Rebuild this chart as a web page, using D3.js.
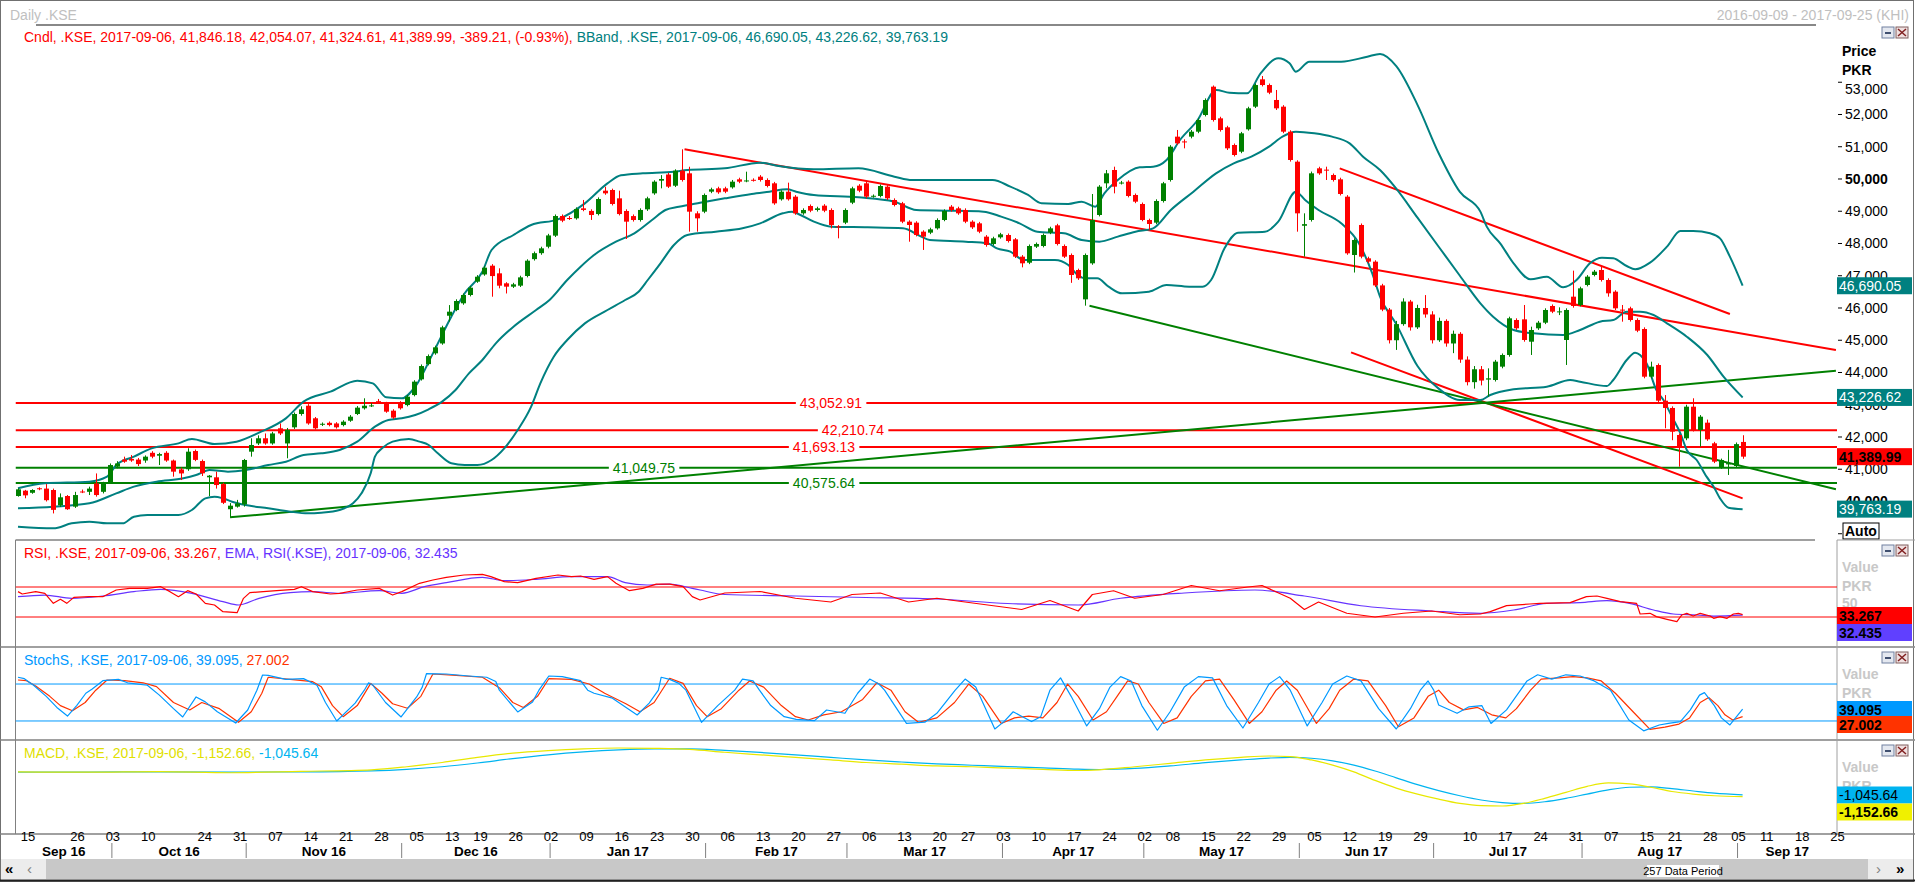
<!DOCTYPE html>
<html>
<head>
<meta charset="utf-8">
<script src="https://cdn.jsdelivr.net/npm/d3@7"></script>
<style>
  body { margin: 0; background: #fff; overflow: hidden; }
  svg { display: block; }
  text { font-family: "Liberation Sans", Arial, sans-serif; }
</style>
</head>
<body>
<svg id="chart" width="1915" height="883"></svg>
<script>
// ---- calendar ----
var firstDay = "2016-09-09", lastDay = "2017-09-25";
var holidays = ["2016-09-12","2016-09-13","2016-09-14","2016-10-11","2016-10-12","2016-12-12",
  "2017-03-23","2017-05-01","2017-06-26","2017-06-27","2017-06-28","2017-08-14","2017-09-01","2017-09-04"];
var dayTicks = ["2016-09-15","2016-09-26","2016-10-03","2016-10-10","2016-10-24","2016-10-31","2016-11-07",
  "2016-11-14","2016-11-21","2016-11-28","2016-12-05","2016-12-13","2016-12-19","2016-12-26","2017-01-02",
  "2017-01-09","2017-01-16","2017-01-23","2017-01-30","2017-02-06","2017-02-13","2017-02-20","2017-02-27",
  "2017-03-06","2017-03-13","2017-03-20","2017-03-27","2017-04-03","2017-04-10","2017-04-17","2017-04-24",
  "2017-05-02","2017-05-08","2017-05-15","2017-05-22","2017-05-29","2017-06-05","2017-06-12","2017-06-19",
  "2017-06-29","2017-07-10","2017-07-17","2017-07-24","2017-07-31","2017-08-07","2017-08-15","2017-08-21",
  "2017-08-28","2017-09-05","2017-09-11","2017-09-18","2017-09-25"];
var monthNames = ["Sep 16","Oct 16","Nov 16","Dec 16","Jan 17","Feb 17","Mar 17","Apr 17","May 17","Jun 17","Jul 17","Aug 17","Sep 17"];

// ---- daily candles [open, high, low, close], one row per trading day ----
var candleRows = [
[40170,40410,40150,40377],[40336,40360,40100,40190],[40270,40380,40240,40356],[40410,40440,40350,40395],
[40400,40540,40000,40040],[40356,40400,39630,39740],[39880,40250,39830,40130],[40170,40200,39740,39760],
[39840,40300,39800,40200],[40310,40370,40260,40290],[40300,40460,40200,40400],[40560,40870,40150,40200],
[40300,40610,40250,40560],[40585,41180,40550,41130],[41080,41250,41030,41180],[41300,41390,41200,41235],
[41320,41440,41230,41270],[41300,41350,41100,41160],[41270,41430,41200,41390],[41510,41560,41340,41390],
[41420,41510,41130,41470],[41510,41560,41230,41270],[41270,41300,40770,40925],[40995,41050,40665,40870],
[41000,41650,40950,41545],[41565,41610,41250,41290],[41255,41300,40790,40873],[40750,40820,40170,40800],
[40750,40925,40400,40510],[40540,40580,39920,39960],[39760,39950,39509,39870],[39840,40050,39810,39940],
[39910,41320,39840,41287],[41545,41960,41390,41752],[41800,42050,41750,41960],[41960,42110,41760,41800],
[41800,42160,41760,42110],[42270,42420,42060,42110],[41800,42280,41340,42220],[42300,42760,42250,42713],
[42713,42950,42660,42858],[42970,43020,42380,42420],[42580,42620,42230,42270],[42380,42450,42340,42410],
[42440,42480,42330,42370],[42420,42460,42260,42300],[42370,42520,42330,42475],[42505,42680,42470,42630],
[42713,42960,42680,42910],[42890,43200,42850,42970],[42960,43050,42930,42980],[43110,43180,43060,43090],
[43050,43090,42750,42785],[42816,42860,42560,42600],[43060,43110,42850,42890],[42990,43300,42950,43250],
[43300,43760,43260,43716],[43788,44250,43750,44200],[44260,44560,44220,44510],[44594,44830,44550,44780],
[44900,45450,44860,45400],[45760,46090,45580,45886],[45936,46270,45900,46217],[46145,46450,46100,46403],
[46403,46680,46360,46630],[46816,47020,46780,46970],[47040,47300,47000,47250],[47312,47360,46350,46990],
[47075,47230,46610,46692],[46765,46800,46450,46661],[46661,46780,46620,46733],[46692,47000,46650,46950],
[46992,47510,46950,47467],[47515,47750,47470,47700],[47700,47900,47650,47850],[47900,48300,47850,48250],
[48243,48900,48200,48852],[48852,48900,48660,48708],[48790,48850,48730,48770],[48780,49120,48740,49070],
[49090,49350,49000,49040],[49010,49060,48730,48883],[48913,49430,48870,49380],[49638,49760,49510,49555],
[49659,49700,49180,49225],[49400,49638,48870,48913],[49008,49060,48140,48677],[48850,48900,48680,48728],
[48728,49090,48680,49040],[49059,49450,49010,49400],[49555,49960,49510,49917],[49948,50120,49710,50000],
[50140,50190,49720,49762],[49792,50300,49750,50258],[50258,50921,49920,49969],[50176,50380,48367,48987],
[48935,49000,48367,48780],[48987,49550,48940,49504],[49607,49730,49560,49680],[49710,49760,49540,49587],
[49710,49760,49560,49607],[49741,49970,49700,49917],[49990,50040,49870,49917],[49940,50227,49900,49955],
[49975,50020,49920,49965],[50072,50120,49920,49969],[49969,50020,49740,49783],[49866,49910,49200,49245],
[49370,49650,49330,49607],[49607,49886,49330,49370],[49452,49500,48890,48935],[48935,49090,48890,49039],
[49163,49210,48970,49018],[49039,49140,48990,49090],[49173,49220,48970,49018],[49039,49090,48470,48574],
[48530,48570,48160,48515],[48646,49090,48600,49039],[49266,49760,49220,49710],[49793,49840,49590,49638],
[49866,49910,49400,49452],[49465,49520,49420,49480],[49473,49830,49430,49783],[49762,49810,49350,49400],
[49349,49400,49150,49194],[49245,49290,48630,48677],[48677,48720,48056,48574],[48646,48690,48220,48263],
[48367,48410,47800,48212],[48336,48490,48290,48439],[48470,48780,48430,48729],[48729,49060,48690,49008],
[49142,49190,48990,49039],[49090,49140,48890,48935],[49039,49090,48630,48677],[48677,48720,48450,48501],
[48625,48670,48320,48367],[48212,48260,47900,47954],[47985,48210,47940,48160],[48191,48330,48150,48284],
[48263,48310,48030,48077],[48129,48170,47550,47592],[47592,47640,47260,47385],[47405,47970,47360,47922],
[47902,48030,47860,47985],[47922,48310,47880,48263],[48336,48520,48290,48470],[48563,48610,47940,47985],
[47922,47970,47550,47592],[47643,47690,46780,47023],[47178,47220,46870,46920],[46268,47690,46072,47643],
[47385,49535,47340,48729],[48884,49810,48840,49762],[49866,50279,49710,50176],[50279,50382,49555,49762],
[49880,49940,49830,49890],[49917,49960,49430,49473],[49504,49550,49250,49297],[49225,49270,48690,48729],
[48729,48770,48420,48605],[48646,49370,48600,49318],[49317,49910,49270,49866],[49969,51050,49920,51002],
[51313,51520,51060,51106],[51165,51230,50950,51150],[51313,51520,51260,51467],[51467,51880,51420,51829],
[51984,52500,51940,52449],[52863,52900,51780,51829],[51881,51930,51470,51519],[51602,51650,50900,50951],
[51054,51100,50700,50744],[50847,51460,50800,51416],[51540,52240,51500,52191],[52243,52960,52200,52914],
[53090,53194,52870,52914],[52914,52960,52630,52677],[52450,52760,52140,52191],[52243,52290,51420,51467],
[51467,51510,50540,50589],[50537,50580,48367,48935],[48550,48935,47592,48600],[48729,50230,48680,50176],
[50331,50380,50130,50176],[50290,50382,49969,50270],[50124,50170,49920,49969],[49990,50040,49490,49535],
[49452,49500,47650,47695],[47643,48160,47100,48108],[48574,48620,47540,47592],[47540,47590,47390,47437],
[47437,47480,46650,46700],[46700,46750,45900,45950],[45950,46000,44900,45000],[45000,45600,44700,45500],
[45500,46300,45450,46200],[46200,46250,45300,45400],[45400,46100,45350,46000],[46000,46400,45700,45800],
[45800,45900,44900,45000],[45000,45700,44950,45600],[45600,45650,44800,44900],[44900,45300,44600,45200],
[45200,45250,44300,44400],[44400,44500,43600,43700],[43700,44200,43500,44100],[44100,44200,43600,43750],
[43780,44129,43250,43819],[43767,44390,43720,44336],[44181,44590,44130,44543],[44543,45730,44490,45680],
[45627,45680,45320,45370],[45648,46093,44955,45008],[44955,45420,44543,45318],[45370,45600,45320,45545],
[45545,45990,45500,45938],[46062,46110,45840,45886],[45880,46020,45780,45895],[45008,45990,44233,45938],
[46351,47158,46010,46062],[46093,46660,46050,46610],[46713,47020,46670,46972],[47023,47180,46980,47127],
[47178,47300,46820,46868],[46868,46920,46351,46455],[46506,46550,45938,45990],[45950,46093,45576,45930],
[45990,46040,45580,45628],[45628,45680,45250,45297],[45349,45400,43820,43870],[43870,44336,43820,44181],
[44232,44280,43080,43126],[43126,43300,42270,42900],[42900,42950,41900,42165],[42062,42110,41080,41700],
[41958,43000,41900,42940],[42940,43200,42170,42217],[42217,42680,41700,42630],[42444,42540,41880,41927],
[41804,41850,41190,41235],[41060,41330,41010,41287],[41150,41600,40822,41190],[41101,41830,41060,41779.20],
[41846.18,42054.07,41324.61,41389.99]
];

// ---- Bollinger band lines [day index, price] ----
var bbUpper = [[0,40408],[3.8,40563],[10.1,40615],[12.6,40770],[13.9,41131],[16.4,41390],[18.9,41648],
  [22.7,41803],[24.6,41937],[27.8,41782],[30.9,41855],[34.1,42134],[37.9,42578],[40.4,43095],[44.2,43405],
  [48,43746],[50.2,43664],[52.1,43230],[54.3,43198],[56.2,43560],[58.7,44594],[61.3,45731],[63.2,46455],
  [65.7,47126],[67,47798],[70.1,48263],[72.6,48573],[76.4,48749],[80.2,49245],[83.4,49865],[85.3,50113],
  [88.4,50175],[92.8,50227],[94.7,50279],[100,50331],[105,50506],[107.6,50403],[112.6,50300],[118.9,50331],
  [124,50072],[126.5,49969],[137.9,49969],[140.4,49762],[142.9,49504],[144.8,49245],[148.6,49225],
  [150.5,49297],[152.4,49142],[153.7,49555],[155.6,49969],[158.7,50362],[160.6,50382],[162.5,50589],
  [164.4,51209],[166.9,51829],[169.5,52760],[171.4,52677],[173.9,52656],[175.8,53276],[178.3,53741],
  [179.9,53587],[180.8,53328],[182.7,53638],[187.2,53638],[190.9,53793],[192.7,53876],[195,53500],
  [198,52300],[201,50800],[204,49600],[206.9,48987],[207.8,48522],[209.7,48005],[211.6,47385],[214,46889],
  [216.3,46971],[218.6,46641],[220.5,46868],[222.4,47385],[224.1,47561],[225.7,47540],[227.6,47302],
  [228.8,47199],[230.9,47405],[233.3,47902],[235.2,48388],[237,48388],[239.4,48315],[240.8,48160],
  [242.2,47592],[244,46690.05]];
var bbMiddle = [[0,39788],[5,39839],[10.1,39943],[13.9,40253],[16.4,40460],[19.6,40615],[23.4,40718],
  [25.2,40821],[27.1,40976],[29.7,40925],[32.2,40976],[35.4,41131],[37.9,41235],[40.4,41442],[42.9,41493],
  [45.5,41597],[48,41855],[50.5,42320],[52.4,42527],[54.3,42578],[56.2,42682],[58.1,42858],[60,43095],
  [61.9,43457],[63.8,43974],[65.7,44387],[67.6,44904],[70.1,45421],[73.3,45938],[75.2,46248],[77.7,46868],
  [79.6,47281],[81.5,47643],[84.6,48056],[87.2,48315],[89.7,48728],[91.6,49039],[93.5,49142],[96.5,49266],
  [100,49400],[103.8,49535],[106.3,49607],[108.8,49680],[110.1,49607],[112.6,49504],[118.9,49431],
  [124,49297],[127.1,49039],[131.6,49018],[136.6,48987],[139.1,48832],[141.7,48625],[144.2,48367],
  [148,48315],[150.5,48108],[153,48057],[155.6,48212],[158.1,48367],[160.6,48470],[163.1,49039],
  [166.3,49607],[169.5,50176],[172,50486],[174.5,50692],[177,51002],[178.9,51313],[180.8,51467],
  [183.4,51416],[185.9,51313],[188.4,51106],[190.3,50692],[192.7,50279],[195,49700],[198,48800],
  [201,47900],[204,47000],[206.9,46144],[208.7,45731],[211.6,45318],[214.4,45214],[218.6,45163],
  [221,45318],[223.8,45576],[225.7,45628],[227.6,45886],[229.5,45886],[231.4,45783],[233.3,45524],
  [236.1,45111],[239,44542],[241.3,43870],[244,43226.62]];
var bbLower = [[0,39219],[5,39167],[7.6,39322],[10.1,39374],[12.6,39322],[14.8,39322],[16.4,39529],
  [18.3,39581],[22.7,39581],[24.6,39736],[26.5,40098],[27.8,40149],[29,40098],[30.3,39994],[32.2,39891],
  [35.4,39788],[38.5,39684],[41,39633],[42.9,39653],[45.5,39736],[47.4,39943],[48.6,40253],[49.9,40873],
  [50.5,41390],[51.5,41648],[53,41855],[55.3,41937],[56.8,41855],[58.1,41752],[59.4,41493],[61.3,41183],
  [63.2,41131],[65,41131],[67,41287],[68.8,41648],[70.7,42217],[72.6,42940],[73.9,43664],[75.8,44490],
  [77.7,45008],[80.2,45524],[83.4,45938],[85.9,46248],[87.8,46506],[89.1,46868],[90.9,47385],[92.8,47953],
  [94.7,48263],[98.7,48367],[102.5,48470],[105,48625],[108.2,48935],[109.5,48987],[110.7,48884],
  [112.6,48677],[115.1,48522],[120.2,48501],[125.2,48470],[127.8,48212],[129,48108],[134.1,48057],
  [137.2,48005],[138.5,47850],[140.4,47747],[142.3,47488],[146.7,47488],[148.6,47333],[149.9,47023],
  [151.1,46920],[152.7,46920],[154.3,46661],[156.2,46455],[160,46506],[162.5,46713],[165.7,46661],
  [167.6,46661],[168.8,46868],[170.7,47850],[172.6,48336],[176.4,48367],[178.3,48677],[180.8,49607],
  [182.1,49349],[184,49039],[187.2,48625],[189.7,48005],[191.6,47075],[192.7,46351],[195,45500],
  [198,44200],[201,43500],[204,43150],[206.9,43147],[208.3,43302],[211.6,43478],[216.3,43561],
  [219.6,43767],[221,43715],[224.8,43581],[225.7,43767],[227.6,44387],[228.8,44615],[229.5,44543],
  [230.4,44284],[231.8,43457],[232.8,43147],[234,42630],[235.2,42113],[236.1,41597],[237.5,41287],
  [238.9,40770],[239.9,40460],[240.8,40098],[242,39809],[244,39763.19]];

// ---- drawn studies ----
var levelValues = [43052.91, 42210.74, 41693.13, 41049.75, 40575.64];
var levelColors = ["#ff0000","#ff0000","#ff0000","#008000","#008000"];
var levelLabelX = [831, 853, 824, 644, 824];
var trendLines = [
  { c: "#ff0000", p: [[94.3,50921],[257.2,44697]] },
  { c: "#ff0000", p: [[187,50331],[242.2,45814]] },
  { c: "#ff0000", p: [[188.6,44625],[244,40098]] },
  { c: "#008000", p: [[30,39509],[257.2,44057]] },
  { c: "#008000", p: [[151.6,46072],[257.2,40377]] }
];

// ---- RSI(14) and its EMA [day index, value] ----
var rsiLine = [[0,63.8],[0.6,60.7],[2.5,63.8],[3.8,61.6],[5,48.2],[6,53.6],[6.9,48.2],[7.9,56.2],[10.1,57.1],
  [12,57.1],[13.9,66],[15.8,68.2],[18.3,68.2],[20.2,70.4],[21.5,63.8],[22.7,57.1],[24,65.1],[25.2,60.7],
  [26.5,48.2],[27.8,46],[29,37.1],[31,35.8],[31.9,54.9],[32.8,62.5],[34.7,63.8],[36.6,65.1],[39.1,66.9],
  [40.1,70.4],[41.7,63.8],[44.2,60.7],[45.5,61.6],[48,66],[51.1,68.2],[53,59.3],[54.3,63.8],[56.8,74.9],
  [58.7,79.3],[60.6,82.9],[63.1,86],[65.7,86.9],[66.9,83.8],[68.8,77.1],[70.7,75.8],[73.3,81.6],[76.4,86],
  [78.3,83.8],[79.6,84.7],[81.5,80.2],[83.4,83.8],[84.6,74.9],[86.5,65.1],[88.4,68.2],[90.3,73.9],
  [92.2,73.9],[94.1,70.4],[95.4,57.1],[96.5,52.7],[100,62],[105,64],[110,55],[115,50],[118,60],[122,62],
  [126,50],[130,55],[134,50],[138,45],[142,40],[146,52],[150,38],[152,60],[155,65],[158,55],[162,60],
  [166,72],[170,65],[174,70],[176,72],[180,55],[182,40],[184,50],[188,35],[192,30],[196,35],[200,38],
  [204,33],[206.9,34],[208.3,37.1],[210.6,45.1],[213.9,47.3],[215.3,48.2],[219.6,49.1],[221.9,57.1],
  [223.4,58],[224.8,54.9],[226.7,50.4],[229,48.2],[229.5,34],[230.9,34.9],[231.8,30.5],[233.3,26.9],
  [234.7,23.8],[235.4,32.7],[236.1,34.9],[237,31.3],[238,34.9],[239.4,31.3],[239.9,28.2],[240.8,30.5],
  [241.8,28.2],[242.7,34],[243.4,34.9],[244,33.267]];
var rsiEma = [[0,57.1],[3.8,59.3],[7.6,54.9],[12,58],[16.4,63.8],[20.2,66.9],[24.6,61.6],[29,50.4],
  [31.2,46],[34.1,54.9],[38.5,62.5],[41.7,63.8],[45.5,61.6],[51.1,65.1],[54.3,61.6],[57.5,70.4],[60.6,75.8],
  [65.7,82.9],[68.8,78.5],[73.3,80.2],[78.3,83.8],[83.4,83.8],[85.9,75.8],[89,72.7],[92.2,73.9],[95.4,68.2],
  [96.5,66],[100,60],[110,58],[120,56],[130,54],[140,48],[150,46],[156,55],[165,62],[175,66],[182,58],
  [190,45],[200,38],[206.9,34.9],[211.6,39.3],[216.3,48.2],[221,49.1],[224.8,51.8],[228,48.2],[231.4,39.3],
  [234.2,34],[237.5,32.7],[239.9,31.3],[244,32.435]];

// ---- Slow stochastic %K / %D [day index, value] ----
var stochK = [[0,91],[0.9,88.7],[2.2,78],[4,60],[5.5,42],[7,28],[8.3,45],[9.6,65],[10.5,72],[12,85.4],
  [14.2,87.6],[15.5,82],[18.3,78],[20,62],[22,40],[23.3,26.5],[25.2,59],[26.5,51],[28.2,35],[30.8,16.7],
  [32.5,37.8],[33.8,70],[34.6,94.6],[35.4,94],[37.9,87.6],[40.4,88.7],[42.3,78],[43.5,50],[45.1,20],
  [47.7,49],[49,70],[49.6,82],[50.2,78],[52,50],[54.2,26.5],[56.4,59],[57.2,75],[57.8,97],[60.6,96.3],
  [63.8,93],[66.3,91],[67.6,84],[68.1,70],[70.7,34.6],[72.8,51],[73.7,70],[75.1,93],[77,91.9],[79.6,85.4],
  [80.6,70],[81.5,65],[84.1,57],[87.6,29.7],[89.3,49],[90.6,70],[91,91],[92.2,87.6],[93.5,81],[94.5,70],
  [96.7,17.8],[99,45],[101.4,70],[102.5,88],[104,85],[104.9,70],[106.5,45],[108.4,27],[110.1,22.7],
  [112.7,20.5],[114.4,37.8],[117,32.5],[118.8,65],[120.5,88],[121.8,80],[122.6,70],[125.7,16.2],[128.3,18],
  [130,32.5],[132.6,70],[134,88],[135.5,75],[138.2,7],[139.5,19],[140.8,35],[142.1,27],[143.4,19],
  [144.7,27],[146,70],[147.5,90],[149,60],[151.2,12],[153,40],[154.5,75],[156,92],[157.5,85],[159,45],
  [161.2,5],[163,35],[165,75],[167,92],[169,90],[171,45],[173.3,8.6],[175.5,50],[177,80],[178.5,92],
  [180,70],[182.4,12],[184.5,50],[186,80],[188,93],[190,85],[192.5,40],[195,7],[197,40],[198.4,70],
  [199.5,85],[200.3,70],[201,46],[203.6,32.5],[205.3,43],[207.1,45],[208.4,16],[210.6,38],[211.9,59],
  [213.5,85],[215,95],[217,88],[219,95],[221,93],[223,85],[225.3,70],[227.9,21.6],[230,4],[232.2,13.5],
  [233.5,16],[235.2,19],[236.6,38],[237.9,62],[238.6,66],[240,45],[241,25],[242.2,13.5],[243,25],
  [244,39.095]];
var stochD = [[0,86.5],[1.2,85.4],[2.5,76.8],[4.5,60],[6,45],[7.7,36.7],[9.5,50],[11,70],[12.6,86.5],
  [15.1,85.4],[17.7,82],[19.6,75.7],[22,50],[24.3,37.8],[26,50],[28.5,40],[31.2,17.8],[33,35],[34.5,65],
  [35.4,91],[38.5,87.6],[41.7,83.8],[42.9,75.7],[44.5,45],[46,27],[48,45],[49.9,81],[51.5,65],[53,48],
  [55.1,40.6],[57,60],[58.7,96.3],[62,94],[65.7,91],[68.2,73],[70,50],[71.5,42],[73.5,60],[75.1,88.6],
  [78.3,87.6],[80.8,80],[83,65],[86,48],[88,35],[90,50],[92.2,89.3],[94.1,81],[96,45],[97.5,27],[99.5,40],
  [102,70],[103.5,85],[105.5,75],[108,45],[110,27],[111.8,21.6],[114,30],[116.5,35],[119.5,55],[121.5,82],
  [123.5,70],[125.5,35],[127.4,17.8],[130,25],[132.5,50],[134.5,80],[136.5,60],[139.1,16],[141,25],
  [143,28],[145,25],[147,50],[148.5,80],[150,60],[152.1,21.6],[154,35],[155.5,60],[157,85],[158.5,80],
  [160,50],[162.1,16],[164,25],[166,60],[168,85],[170,88],[172,55],[174.2,16],[176,35],[178,70],[179.5,85],
  [181,70],[183.7,16],[185.5,40],[187,70],[189,88],[191,85],[193.5,45],[195.3,10.7],[197.5,25],[199.5,60],
  [201,70],[202.5,50],[204.5,38],[206.5,42],[208.5,30],[210.5,25],[212,40],[214,70],[215.5,88],[218,90],
  [220,92],[222,90],[224,85],[226,65],[228.5,35],[230.9,6.5],[233,10],[235,15],[236.5,25],[238,50],
  [239.2,58],[240.5,45],[241.5,30],[242.6,21.6],[244,27.002]];

// ---- MACD and signal [day index, value] ----
var macdLine = [[0,300],[10,280],[20,320],[30,250],[40,330],[50,420],[55,600],[60,850],[65,1150],[70,1400],
  [75,1550],[80,1650],[85,1700],[90,1680],[95,1620],[100,1450],[105,1300],[110,1150],[115,1000],[120,850],
  [125,750],[130,650],[135,600],[140,520],[145,450],[150,380],[153,420],[158,600],[163,800],[168,1000],
  [173,1150],[177,1230],[180,1200],[183,1000],[186,700],[189,300],[192,-200],[195,-650],[198,-1000],
  [201,-1300],[204,-1550],[207,-1680],[210,-1700],[213,-1550],[216,-1250],[219,-900],[222,-550],[225,-350],
  [228,-400],[231,-600],[234,-850],[237,-1000],[240,-1100],[244,-1152.66]];
var macdSignal = [[0,280],[10,290],[20,300],[30,290],[40,300],[50,360],[55,450],[60,600],[65,820],[70,1080],
  [75,1300],[80,1470],[85,1590],[90,1650],[95,1650],[100,1560],[105,1440],[110,1300],[115,1150],[120,1000],
  [125,880],[130,770],[135,690],[140,610],[145,540],[150,460],[153,440],[158,500],[163,650],[168,840],
  [173,1000],[177,1110],[180,1150],[183,1100],[186,950],[189,700],[192,350],[195,-50],[198,-450],[201,-800],
  [204,-1100],[207,-1350],[210,-1500],[213,-1550],[216,-1450],[219,-1250],[222,-1000],[225,-750],[228,-600],
  [231,-580],[234,-680],[237,-820],[240,-950],[244,-1045.64]];

// ================= drawing =================
var svg = d3.select("#chart");
var parse = d3.timeParse("%Y-%m-%d"), fmt = d3.timeFormat("%Y-%m-%d");
var hol = new Set(holidays);
var days = d3.timeDay.range(parse(firstDay), d3.timeDay.offset(parse(lastDay), 1))
  .filter(function(d) { return d.getDay() > 0 && d.getDay() < 6 && !hol.has(fmt(d)); })
  .map(fmt);
var dayIndex = new Map(days.map(function(d, i) { return [d, i]; }));

var plotL = 15.5, plotR = 1837;
var x = d3.scaleLinear().domain([0, days.length - 1]).range([18, 1834.5]);
var yP = d3.scaleLinear().domain([38899, 54713]).range([537, 27]);
var yR = d3.scaleLinear().domain([0, 100]).range([639.5, 564.5]);
var yS = d3.scaleLinear().domain([0, 100]).range([733.3, 671.7]);
var yM = d3.scaleLinear().domain([-1700, 1700]).range([806, 748]);

var nf2 = function(v) { return d3.format(",.2f")(v).replace("\u2212", "-"); };

function clip(id, y0, y1) {
  svg.append("clipPath").attr("id", id).append("rect")
    .attr("x", plotL).attr("y", y0).attr("width", plotR - plotL).attr("height", y1 - y0);
  return svg.append("g").attr("clip-path", "url(#" + id + ")");
}
function path(g, pts, ys, color, w, curve) {
  g.append("path").datum(pts)
    .attr("d", d3.line().x(function(d) { return x(d[0]); }).y(function(d) { return ys(d[1]); }).curve(curve || d3.curveLinear))
    .attr("fill", "none").attr("stroke", color).attr("stroke-width", w).attr("stroke-linejoin", "round");
}
function valueBox(y, label, fill, color, bold) {
  svg.append("rect").attr("x", 1837).attr("y", y - 8.5).attr("width", 75).attr("height", 17).attr("fill", fill);
  svg.append("text").attr("x", 1839).attr("y", y + 5).attr("font-size", 14)
    .attr("font-weight", bold ? "bold" : "normal").attr("fill", color).text(label);
}
function icons(y) {
  var g = svg.append("g");
  g.append("rect").attr("x", 1882).attr("y", y).attr("width", 12).attr("height", 11)
    .attr("fill", "#e4e8f0").attr("stroke", "#7080a0");
  g.append("rect").attr("x", 1885).attr("y", y + 5).attr("width", 6).attr("height", 2).attr("fill", "#405070");
  g.append("rect").attr("x", 1896).attr("y", y).attr("width", 12).attr("height", 11)
    .attr("fill", "#f0e0e0").attr("stroke", "#806060");
  g.append("path").attr("d", "M1898," + (y + 2) + "L1906," + (y + 9) + "M1906," + (y + 2) + "L1898," + (y + 9))
    .attr("stroke", "#802020").attr("stroke-width", 1.5);
}

// frame + title
svg.append("rect").attr("x", 0.5).attr("y", 0.5).attr("width", 1913).attr("height", 881)
  .attr("fill", "none").attr("stroke", "#707070");
svg.append("text").attr("x", 10).attr("y", 20).attr("font-size", 14).attr("fill", "#c0c0c0").text("Daily .KSE");
svg.append("text").attr("x", 1909).attr("y", 20).attr("font-size", 14).attr("fill", "#c0c0c0")
  .attr("text-anchor", "end").text(firstDay + " - " + lastDay + " (KHI)");
svg.append("line").attr("x1", 36).attr("x2", 1816).attr("y1", 25).attr("y2", 25)
  .attr("stroke", "#606060").attr("stroke-width", 1.5);
icons(27);

// ---- price panel ----
var gP = clip("cp", 27, 538);
levelValues.forEach(function(v, k) {
  gP.append("line").attr("x1", plotL).attr("x2", plotR).attr("y1", yP(v)).attr("y2", yP(v))
    .attr("stroke", levelColors[k]).attr("stroke-width", 2);
});
trendLines.forEach(function(t) { path(gP, t.p, yP, t.c, 2); });
[bbUpper, bbMiddle, bbLower].forEach(function(b) { path(gP, b, yP, "#008080", 2, d3.curveMonotoneX); });

var cw = 5;
var cg = gP.selectAll("g.c").data(candleRows).enter().append("g");
cg.append("line")
  .attr("x1", function(d, i) { return Math.round(x(i)) + 0.5; })
  .attr("x2", function(d, i) { return Math.round(x(i)) + 0.5; })
  .attr("y1", function(d) { return yP(d[1]); }).attr("y2", function(d) { return yP(d[2]); })
  .attr("stroke", function(d) { return d[3] >= d[0] ? "#008000" : "#ff0000"; });
cg.append("rect")
  .attr("x", function(d, i) { return Math.round(x(i)) + 0.5 - cw / 2; })
  .attr("width", cw)
  .attr("y", function(d) { return yP(Math.max(d[0], d[3])); })
  .attr("height", function(d) { return Math.max(1, Math.abs(yP(d[0]) - yP(d[3]))); })
  .attr("fill", function(d) { return d[3] >= d[0] ? "#008000" : "#ff0000"; });

// level labels
levelValues.forEach(function(v, k) {
  var t = svg.append("text").attr("x", levelLabelX[k]).attr("y", yP(v) + 5).attr("text-anchor", "middle")
    .attr("font-size", 14).attr("fill", levelColors[k]).text(nf2(v));
  var bb = t.node().getBBox();
  svg.insert("rect", function() { return t.node(); }).attr("x", bb.x - 4).attr("y", yP(v) - 2)
    .attr("width", bb.width + 8).attr("height", 4).attr("fill", "#fff");
});

// legend
var last = candleRows[candleRows.length - 1], prev = candleRows[candleRows.length - 2];
var chg = last[3] - prev[3];
var leg = svg.append("text").attr("x", 24).attr("y", 42).attr("font-size", 14);
leg.append("tspan").attr("fill", "#ff0000").text("Cndl, .KSE, 2017-09-06, " + last.map(nf2).join(", ") +
  ", " + nf2(chg) + ", (" + nf2(chg / prev[3] * 100) + "%), ");
leg.append("tspan").attr("fill", "#008080").text("BBand, .KSE, 2017-09-06, " +
  [bbUpper, bbMiddle, bbLower].map(function(b) { return nf2(b[b.length - 1][1]); }).join(", "));

// price axis
svg.append("text").attr("x", 1842).attr("y", 56).attr("font-size", 14).attr("font-weight", "bold").text("Price");
svg.append("text").attr("x", 1842).attr("y", 75).attr("font-size", 14).attr("font-weight", "bold").text("PKR");
d3.range(40000, 54000, 1000).forEach(function(v) {
  var y = yP(v);
  svg.append("line").attr("x1", 1838).attr("x2", 1842).attr("y1", y).attr("y2", y).attr("stroke", "#000");
  svg.append("text").attr("x", 1845).attr("y", Math.max(y, 89) + 5).attr("font-size", 14)
    .attr("font-weight", v % 10000 === 0 ? "bold" : "normal").text(d3.format(",")(v));
});
svg.append("line").attr("x1", 1838).attr("x2", 1842).attr("y1", yP(39000)).attr("y2", yP(39000)).attr("stroke", "#000");
valueBox(yP(bbUpper[bbUpper.length - 1][1]), nf2(bbUpper[bbUpper.length - 1][1]), "#008080", "#fff");
valueBox(yP(bbMiddle[bbMiddle.length - 1][1]), nf2(bbMiddle[bbMiddle.length - 1][1]), "#008080", "#fff");
valueBox(yP(last[3]), nf2(last[3]), "#ff0000", "#000", true);
valueBox(yP(bbLower[bbLower.length - 1][1]), nf2(bbLower[bbLower.length - 1][1]), "#008080", "#fff");
svg.append("rect").attr("x", 1843).attr("y", 523).attr("width", 36).attr("height", 16).attr("fill", "#fff").attr("stroke", "#000");
svg.append("text").attr("x", 1845).attr("y", 536).attr("font-size", 14).attr("font-weight", "bold").text("Auto");

// ---- panel frames ----
svg.append("line").attr("x1", plotL).attr("x2", 1815).attr("y1", 540).attr("y2", 540).attr("stroke", "#808080").attr("stroke-width", 1.5);
[647, 740, 834].forEach(function(y) {
  svg.append("line").attr("x1", 0).attr("x2", 1915).attr("y1", y).attr("y2", y).attr("stroke", "#808080").attr("stroke-width", 1.5);
});
svg.append("line").attr("x1", plotL).attr("x2", plotL).attr("y1", 540).attr("y2", 834).attr("stroke", "#808080");
[[540, 647], [647, 740], [740, 834]].forEach(function(r) {
  svg.append("line").attr("x1", 1837).attr("x2", 1837).attr("y1", r[0]).attr("y2", r[1]).attr("stroke", "#a0a0a0");
  svg.append("line").attr("x1", 1837).attr("x2", 1915).attr("y1", r[0]).attr("y2", r[0]).attr("stroke", "#a0a0a0");
  icons(r[0] + 5);
  svg.append("text").attr("x", 1842).attr("y", r[0] + 32).attr("font-size", 14).attr("font-weight", "bold").attr("fill", "#c8c8c8").text("Value");
  svg.append("text").attr("x", 1842).attr("y", r[0] + 51).attr("font-size", 14).attr("font-weight", "bold").attr("fill", "#c8c8c8").text("PKR");
});

// ---- RSI panel ----
var gR = clip("cr", 541, 646);
[70, 30].forEach(function(v) {
  gR.append("line").attr("x1", plotL).attr("x2", plotR).attr("y1", yR(v)).attr("y2", yR(v)).attr("stroke", "#ff0000");
});
path(gR, rsiEma, yR, "#6633ff", 1.2, d3.curveMonotoneX);
path(gR, rsiLine, yR, "#ff0000", 1.2);
var lr = svg.append("text").attr("x", 24).attr("y", 558).attr("font-size", 14);
lr.append("tspan").attr("fill", "#ff0000").text("RSI, .KSE, 2017-09-06, " + rsiLine[rsiLine.length - 1][1] + ",  ");
lr.append("tspan").attr("fill", "#6633ff").text("EMA, RSI(.KSE), 2017-09-06, " + rsiEma[rsiEma.length - 1][1]);
svg.append("text").attr("x", 1842).attr("y", 608).attr("font-size", 14).attr("font-weight", "bold").attr("fill", "#c8c8c8").text("50");
valueBox(615.5, "33.267", "#ff0000", "#000", true);
valueBox(632.5, "32.435", "#6040ff", "#000", true);

// ---- Stochastic panel ----
var gS = clip("cs", 648, 739);
[80, 20].forEach(function(v) {
  gS.append("line").attr("x1", plotL).attr("x2", plotR).attr("y1", yS(v)).attr("y2", yS(v)).attr("stroke", "#0099ff");
});
path(gS, stochD, yS, "#ff3300", 1.2);
path(gS, stochK, yS, "#0099ff", 1.2);
var ls = svg.append("text").attr("x", 24).attr("y", 665).attr("font-size", 14);
ls.append("tspan").attr("fill", "#0099ff").text("StochS, .KSE, 2017-09-06, 39.095, ");
ls.append("tspan").attr("fill", "#ff3300").text("27.002");
valueBox(709.5, "39.095", "#0099ff", "#000", true);
valueBox(724.5, "27.002", "#ff3300", "#000", true);

// ---- MACD panel ----
var gM = clip("cm", 741, 833);
path(gM, macdSignal, yM, "#00b4f0", 1.2, d3.curveMonotoneX);
path(gM, macdLine, yM, "#e8e800", 1.2, d3.curveMonotoneX);
var lm = svg.append("text").attr("x", 24).attr("y", 758).attr("font-size", 14);
lm.append("tspan").attr("fill", "#e0e000").text("MACD, .KSE, 2017-09-06, " + nf2(macdLine[macdLine.length - 1][1]) + ", ");
lm.append("tspan").attr("fill", "#00b4f0").text(nf2(macdSignal[macdSignal.length - 1][1]));
valueBox(795, nf2(macdSignal[macdSignal.length - 1][1]), "#00b4f0", "#000", false);
valueBox(812, nf2(macdLine[macdLine.length - 1][1]), "#f0f000", "#000", true);

// ---- time axis ----
dayTicks.forEach(function(d) {
  var i = dayIndex.get(d);
  svg.append("text").attr("x", x(i) + 3).attr("y", 841).attr("text-anchor", "middle")
    .attr("font-family", "DejaVu Sans").attr("font-size", 13).text(d.slice(8));
});
var monthStarts = [];
days.forEach(function(d, i) { if (i > 0 && d.slice(5, 7) !== days[i - 1].slice(5, 7)) monthStarts.push(i); });
var seps = [plotL].concat(monthStarts.map(function(i) { return x(i) + 2; })).concat([plotR]);
monthStarts.forEach(function(i) {
  svg.append("line").attr("x1", x(i) + 2).attr("x2", x(i) + 2).attr("y1", 843).attr("y2", 858).attr("stroke", "#808080");
});
monthNames.forEach(function(m, k) {
  svg.append("text").attr("x", (seps[k] + seps[k + 1]) / 2).attr("y", 856).attr("text-anchor", "middle")
    .attr("font-family", "DejaVu Sans").attr("font-weight", "bold").attr("font-size", 13.5).text(m);
});

// scroll bar
svg.append("rect").attr("x", 1).attr("y", 859).attr("width", 1912).attr("height", 20).attr("fill", "#c8c8c8");
svg.append("rect").attr("x", 1).attr("y", 859).attr("width", 45).attr("height", 20).attr("fill", "#ececec");
svg.append("rect").attr("x", 1868).attr("y", 859).attr("width", 45).attr("height", 20).attr("fill", "#ececec");
svg.append("text").attr("x", 5).attr("y", 874).attr("font-size", 15).attr("font-weight", "bold").text("\u00ab");
svg.append("text").attr("x", 27).attr("y", 874).attr("font-size", 15).attr("fill", "#808080").text("\u2039");
svg.append("text").attr("x", 1876).attr("y", 874).attr("font-size", 15).attr("fill", "#808080").text("\u203a");
svg.append("text").attr("x", 1896).attr("y", 874).attr("font-size", 15).attr("font-weight", "bold").text("\u00bb");
svg.append("rect").attr("x", 1647).attr("y", 865).attr("width", 72).attr("height", 12).attr("fill", "#fff");
svg.append("text").attr("x", 1683).attr("y", 875).attr("text-anchor", "middle").attr("font-size", 11)
  .text("257 Data Period");
svg.append("line").attr("x1", 0).attr("x2", 1915).attr("y1", 880.5).attr("y2", 880.5).attr("stroke", "#202020").attr("stroke-width", 2);
</script>
</body>
</html>
